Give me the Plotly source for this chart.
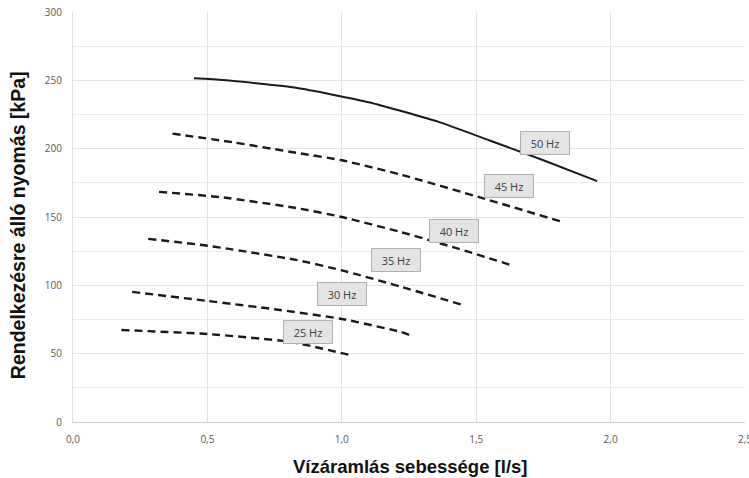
import plotly.graph_objects as go

# Flow rate [l/s] and available pressure [kPa] per pump frequency
x50 = [0.45, 0.56, 0.83, 1.10, 1.36, 1.55, 1.75, 1.95]
y50 = [251.5, 250.2, 244.5, 234.0, 219.6, 206.0, 191.5, 176.2]

x45 = [0.37, 0.60, 0.83, 1.00, 1.22, 1.52, 1.82]
y45 = [211.0, 204.5, 197.0, 191.5, 181.0, 164.0, 146.4]

x40 = [0.32, 0.55, 0.83, 1.00, 1.22, 1.43, 1.64]
y40 = [168.4, 164.5, 156.6, 150.0, 139.0, 127.0, 114.2]

x35 = [0.28, 0.50, 0.83, 1.00, 1.22, 1.45]
y35 = [134.0, 129.0, 118.6, 111.0, 99.0, 85.6]

x30 = [0.22, 0.50, 0.75, 1.00, 1.22, 1.26]
y30 = [95.2, 88.6, 82.5, 75.4, 65.9, 63.0]

x25 = [0.18, 0.50, 0.81, 1.03]
y25 = [67.3, 64.4, 58.6, 49.0]

labels = ["50 Hz", "45 Hz", "40 Hz", "35 Hz", "30 Hz", "25 Hz"]
label_x = [1.755, 1.621, 1.416, 1.200, 1.000, 0.873]
label_y = [204.0, 172.8, 140.0, 118.6, 93.7, 65.9]

x_ticks = [0.0, 0.5, 1.0, 1.5, 2.0, 2.5]
x_ticktext = ["0,0", "0,5", "1,0", "1,5", "2,0", "2,5"]
y_ticks = [0, 50, 100, 150, 200, 250, 300]

fig = go.Figure()
series = [(x50, y50, "solid"), (x45, y45, "dash"), (x40, y40, "dash"),
          (x35, y35, "dash"), (x30, y30, "dash"), (x25, y25, "dash")]
for (xs, ys, style), name in zip(series, labels):
    fig.add_trace(go.Scatter(
        x=xs, y=ys, mode="lines", name=name, showlegend=False, hoverinfo="skip",
        line=dict(color="#1a1a1a", width=2 if style == "solid" else 2.4,
                  dash="solid" if style == "solid" else "8px,5px",
                  shape="spline", smoothing=0.5)))

for t, lx, ly in zip(labels, label_x, label_y):
    fig.add_annotation(x=lx, y=ly, text=t, showarrow=False,
                       font=dict(family="Open Sans", size=11, color="#404040"),
                       bgcolor="#e4e4e4", bordercolor="#b0b0b0", borderwidth=1,
                       borderpad=4, width=40, height=14)

fig.add_annotation(xref="paper", yref="paper", x=(410 - 73) / 672, y=0,
                   yshift=-44, text="<b>Vízáramlás sebessége [l/s]</b>",
                   showarrow=False, font=dict(family="Liberation Sans", size=18.5, color="#111111"),
                   xanchor="center", yanchor="middle")
fig.add_annotation(xref="paper", yref="paper", x=0, xshift=-55, y=0.48,
                   text="<b>Rendelkezésre álló nyomás [kPa]</b>", textangle=-90,
                   showarrow=False, font=dict(family="Liberation Sans", size=19.5, color="#111111"),
                   xanchor="center", yanchor="middle")

fig.update_layout(
    width=749, height=478,
    margin=dict(l=73, r=4, t=12, b=56, autoexpand=False),
    paper_bgcolor="white", plot_bgcolor="white",
    font=dict(family="Open Sans", size=10, color="#595959"),
    hovermode=False,
)
fig.update_xaxes(range=[0, 2.5], tickvals=x_ticks, ticktext=x_ticktext, automargin=False,
                 ticklabeloverflow="allow",
                 showgrid=True, gridcolor="#e3e3e3", gridwidth=1,
                 showline=True, linecolor="#d0d0d0", linewidth=1,
                 zeroline=False, ticks="outside", ticklen=8, tickcolor="rgba(0,0,0,0)",
                 tickfont=dict(size=10, color="#595959"))
fig.update_yaxes(range=[0, 300], tickvals=y_ticks, automargin=False,
                 ticklabeloverflow="allow",
                 showgrid=True, gridcolor="#e3e3e3", gridwidth=1,
                 minor=dict(dtick=25, showgrid=True, gridcolor="#ececec"),
                 showline=True, linecolor="#e0e0e0", linewidth=1,
                 zeroline=False, ticks="outside", ticklen=8, tickcolor="rgba(0,0,0,0)",
                 tickfont=dict(size=10, color="#595959"))

fig.write_html("out.html", config={"displayModeBar": False},
               post_script="document.body.style.margin='0';document.body.style.overflow='hidden';")
